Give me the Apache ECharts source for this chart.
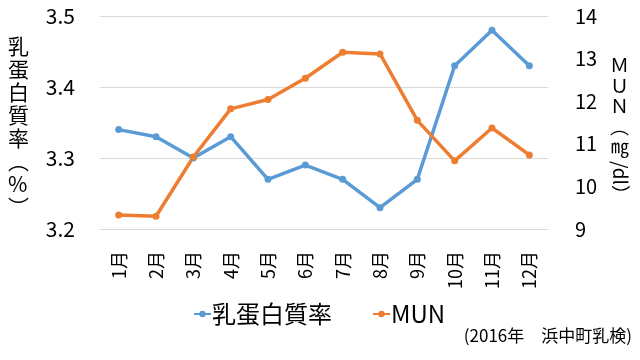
<!DOCTYPE html>
<html><head><meta charset="utf-8">
<script src="https://cdn.jsdelivr.net/npm/echarts@6/dist/echarts.min.js"></script>
<style>html,body{margin:0;padding:0;background:#fff}#c{width:640px;height:360px}</style>
</head><body><div id="c"></div>
<script>
const months = ['1月','2月','3月','4月','5月','6月','7月','8月','9月','10月','11月','12月'];
const protein = [3.34, 3.33, 3.30, 3.33, 3.27, 3.29, 3.27, 3.23, 3.27, 3.43, 3.48, 3.43];
const mun = [9.33, 9.30, 10.69, 11.82, 12.04, 12.54, 13.15, 13.11, 11.55, 10.60, 11.37, 10.74];
const seriesNames = ['乳蛋白質率', 'MUN'];
const FF = '"Noto Sans CJK JP", "Noto Sans", sans-serif';
const chart = echarts.init(document.getElementById('c'));
chart.setOption({
  animation: false,
  textStyle: {fontFamily: FF},
  grid: {left: 100, right: 92, top: 16, bottom: 131},
  legend: {
    data: seriesNames, top: 297, left: 188, itemGap: 40, itemWidth: 17, itemHeight: 8,
    textStyle: {fontSize: 24, color: '#000', fontFamily: FF, padding: [0, 0, 0, -4]}
  },
  xAxis: {
    type: 'category', data: months, boundaryGap: true,
    axisLine: {lineStyle: {color: '#D9D9D9'}}, axisTick: {show: false},
    axisLabel: {rotate: 90, fontSize: 18, color: '#000', margin: 22, fontFamily: FF}
  },
  yAxis: [{
    type: 'value', min: 3.2, max: 3.5, interval: 0.1,
    axisLabel: {fontSize: 21, color: '#000', margin: 25, formatter: v => v.toFixed(1), fontFamily: FF},
    splitLine: {lineStyle: {color: '#D9D9D9'}},
    axisLine: {show: false}, axisTick: {show: false}
  }, {
    type: 'value', min: 9, max: 14, interval: 1,
    axisLabel: {fontSize: 20, color: '#000', margin: 27, fontFamily: FF},
    splitLine: {show: false}, axisLine: {show: false}, axisTick: {show: false}
  }],
  graphic: [
    {type: 'text', left: 8, top: 35, style: {text: '乳\n蛋\n白\n質\n率\n︵\n%\n︶', fontSize: 21, lineHeight: 23, fontFamily: FF, fill: '#000'}},
    {type: 'text', left: 610, top: 55, style: {text: 'Ｍ\nＵ\nＮ\n︵', fontSize: 19, lineHeight: 20.5, fontFamily: FF, fill: '#000'}},
    {type: 'text', left: 611, top: 137, style: {text: '㎎', fontSize: 18, fontFamily: FF, fill: '#000'}},
    {type: 'text', x: 630, y: 161, rotation: -Math.PI / 2, style: {text: '/dl）', fontSize: 19, fontFamily: FF, fill: '#000'}},
    {type: 'text', right: 8, top: 327, style: {text: '(2016年　浜中町乳検)', fontSize: 17, fontFamily: FF, fill: '#000'}}
  ],
  series: [{
    name: seriesNames[0], type: 'line', data: protein, yAxisIndex: 0,
    symbol: 'circle', symbolSize: 7, color: '#5B9BD5', lineStyle: {width: 3.5}
  }, {
    name: seriesNames[1], type: 'line', data: mun, yAxisIndex: 1,
    symbol: 'circle', symbolSize: 7, color: '#ED7D31', lineStyle: {width: 3.5}
  }]
});
</script></body></html>
